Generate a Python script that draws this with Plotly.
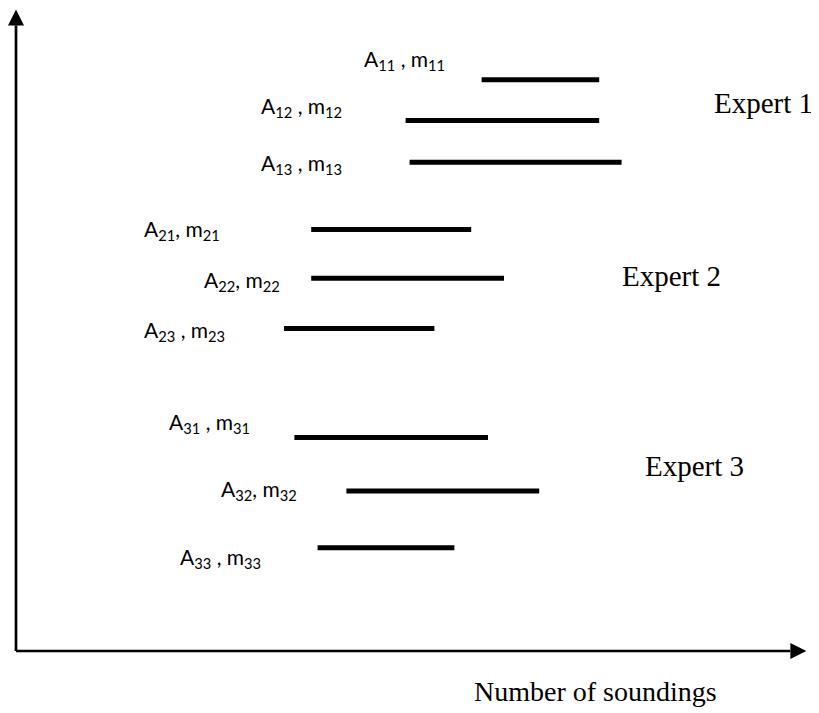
import plotly.graph_objects as go

# ---- data (units: origin of the axes = 0, 1 unit ~ 8 px) ----
labels = [
    'A<sub>11</sub> , m<sub>11</sub>',
    'A<sub>12</sub> , m<sub>12</sub>',
    'A<sub>13</sub> , m<sub>13</sub>',
    'A<sub>21</sub>, m<sub>21</sub>',
    'A<sub>22</sub>, m<sub>22</sub>',
    'A<sub>23</sub> , m<sub>23</sub>',
    'A<sub>31</sub> , m<sub>31</sub>',
    'A<sub>32</sub>, m<sub>32</sub>',
    'A<sub>33</sub> , m<sub>33</sub>',
]
seg_start = [58.2, 48.7, 49.2, 36.9, 36.9, 33.5, 34.8, 41.3, 37.7]
seg_end = [72.9, 72.9, 75.7, 56.9, 61.0, 52.3, 59.0, 65.4, 54.8]
seg_level = [71.4, 66.3, 61.1, 52.7, 46.6, 40.3, 26.7, 20.0, 12.9]

# label placement (left edge, vertical middle)
label_x = [43.3, 30.4, 30.4, 15.8, 23.3, 15.8, 18.9, 25.4, 20.3]
label_y = [73.9, 68.0, 60.9, 52.6, 46.2, 39.95, 28.5, 20.1, 11.6]

experts = ['Expert 1', 'Expert 2', 'Expert 3']
expert_x = [93.4, 81.9, 84.75]
expert_y = [68.5, 46.9, 23.1]

x_title = 'Number of soundings'
x_end = 98.8     # tip of x arrow
y_end = 80.2     # tip of y arrow

fig = go.Figure()

# horizontal bars (one trace per interval)
for s, e, lv in zip(seg_start, seg_end, seg_level):
    fig.add_trace(go.Scatter(
        x=[s, e], y=[lv, lv],
        mode='lines',
        line=dict(color='black', width=5),
        showlegend=False,
        hoverinfo='skip'
    ))

# axis lines with arrowheads
ah = 2.0
fig.add_shape(type='line', x0=0, y0=0, x1=x_end - ah, y1=0,
              line=dict(color='black', width=2.7))
fig.add_shape(type='line', x0=0, y0=0, x1=0, y1=y_end - ah,
              line=dict(color='black', width=2.7))
fig.add_shape(type='path',
              path=f'M {x_end - ah} {-ah / 2} L {x_end} 0 L {x_end - ah} {ah / 2} Z',
              fillcolor='black', line=dict(color='black', width=0))
fig.add_shape(type='path',
              path=f'M {-ah / 2} {y_end - ah} L 0 {y_end} L {ah / 2} {y_end - ah} Z',
              fillcolor='black', line=dict(color='black', width=0))

# interval labels
for t, lx, ly in zip(labels, label_x, label_y):
    fig.add_annotation(x=lx, y=ly, text=t, showarrow=False,
                       xanchor='left', yanchor='middle',
                       font=dict(family='Lato', size=21, color='black'))

# expert labels
for t, ex, ey in zip(experts, expert_x, expert_y):
    fig.add_annotation(x=ex, y=ey, text=t, showarrow=False,
                       xanchor='center', yanchor='middle',
                       font=dict(family='Liberation Serif', size=29, color='black'))

fig.add_annotation(x=72.4, y=-5.1, text=x_title, showarrow=False,
                   xanchor='center', yanchor='middle',
                   font=dict(family='Liberation Serif', size=28, color='black'))

# ranges offset by 1 unit (8 px) to absorb the page's default body margin
fig.update_xaxes(visible=False, range=[-1, 101.375])
fig.update_yaxes(visible=False, range=[-8.75, 80.375])
fig.update_layout(
    width=819, height=713,
    margin=dict(l=0, r=0, t=0, b=0),
    paper_bgcolor='white', plot_bgcolor='white',
    showlegend=False
)

fig.write_html("out.html")
